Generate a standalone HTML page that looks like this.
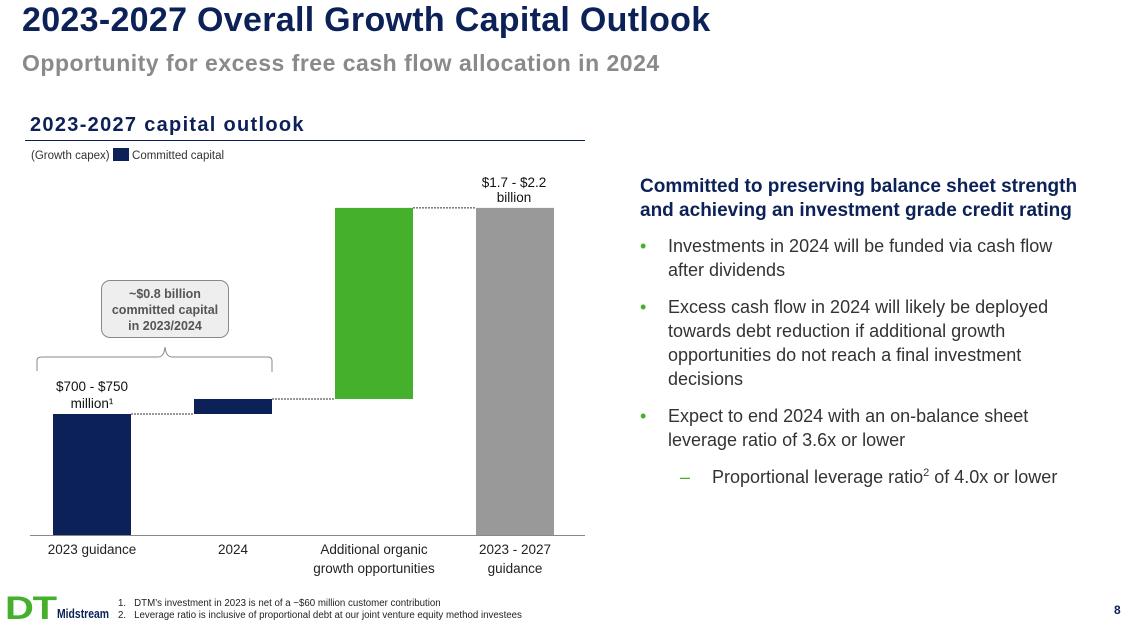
<!DOCTYPE html>
<html><head><meta charset="utf-8"><style>
body{margin:0;width:1131px;height:633px;background:#fff;font-family:"Liberation Sans",sans-serif;position:relative;overflow:hidden}
.a{position:absolute}
</style></head><body>
<div class="a" style="left:22px;top:1px;font-size:34px;font-weight:bold;color:#0c2157;letter-spacing:0.3px">2023-2027 Overall Growth Capital Outlook</div>
<div class="a" style="left:22px;top:50px;font-size:23px;font-weight:bold;color:#8a8a8a;letter-spacing:0.5px">Opportunity for excess free cash flow allocation in 2024</div>
<div class="a" style="left:30px;top:114px;font-size:20px;font-weight:bold;color:#0c2157;letter-spacing:1.3px">2023-2027 capital outlook</div>
<div class="a" style="left:25px;top:140px;width:560px;height:1px;background:#0c2157"></div>
<div class="a" style="left:31px;top:148px;font-size:11.5px;color:#333">(Growth capex) <span style="display:inline-block;width:16px;height:13px;background:#0c2157;vertical-align:-2px"></span> Committed capital</div>
<svg class="a" style="left:0;top:0" width="600" height="600" id="chart"></svg>
<div class="a" style="left:101px;top:280px;width:128px;height:58px;border:1px solid #888;border-radius:9px;background:#eee;font-size:12.5px;font-weight:bold;color:#555;text-align:center;line-height:16px;padding-top:5px;box-sizing:border-box">~$0.8 billion<br>committed capital<br>in 2023/2024</div>
<div class="a" style="left:640px;top:175px;font-size:19px;font-weight:bold;color:#0c2157;line-height:24px">Committed to preserving balance sheet strength<br>and achieving an investment grade credit rating</div>
<div class="a" style="left:640px;top:234px;font-size:18px;color:#333;line-height:24px;width:450px">
<div style="position:relative;padding-left:28px;margin-bottom:13px"><span style="position:absolute;left:0;color:#44b02c">•</span>Investments in 2024 will be funded via cash flow<br>after dividends</div>
<div style="position:relative;padding-left:28px;margin-bottom:13px"><span style="position:absolute;left:0;color:#44b02c">•</span>Excess cash flow in 2024 will likely be deployed<br>towards debt reduction if additional growth<br>opportunities do not reach a final investment<br>decisions</div>
<div style="position:relative;padding-left:28px;margin-bottom:13px"><span style="position:absolute;left:0;color:#44b02c">•</span>Expect to end 2024 with an on-balance sheet<br>leverage ratio of 3.6x or lower</div>
<div style="position:relative;padding-left:72px"><span style="position:absolute;left:40px;color:#44b02c">–</span>Proportional leverage ratio<sup style="font-size:11px;line-height:0">2</sup> of 4.0x or lower</div>
</div>
<div class="a" style="left:5px;top:597px;width:110px;height:26px">
<span style="position:absolute;left:0;top:-7px;font-size:32px;font-weight:900;color:#44b02c;letter-spacing:-1px;transform:scaleX(1.25);transform-origin:left">DT</span>
<span style="position:absolute;left:52px;top:9px;font-size:13px;font-weight:bold;color:#0c2157;transform:scaleX(0.8);transform-origin:left">Midstream</span></div>
<div class="a" style="left:118px;top:598px;font-size:9.7px;color:#222;line-height:12px">1.&nbsp;&nbsp;&nbsp;DTM’s investment in 2023 is net of a ~$60 million customer contribution<br>2.&nbsp;&nbsp;&nbsp;Leverage ratio is inclusive of proportional debt at our joint venture equity method investees</div>
<div class="a" style="left:1114px;top:603px;font-size:12px;font-weight:bold;color:#0c2157">8</div>
<script>
const categories=["2023 guidance","2024","Additional organic growth opportunities","2023 - 2027 guidance"];
const values=[725,90,1145,1960];
const kinds=["base","step","step","total"];
const colors=["#0c2157","#0c2157","#44b02c","#999999"];
const NS="http://www.w3.org/2000/svg",svg=document.getElementById('chart');
const base=535,k=121/725,x0=53,step=141,bw=78;
const y=v=>base-v*k;
function mk(t,a){const e=document.createElementNS(NS,t);for(const n in a)e.setAttribute(n,a[n]);svg.appendChild(e);return e;}
let cum=0;
values.forEach((v,i)=>{let lo,hi;
 if(kinds[i]==="total"){lo=0;hi=v;}else{lo=cum;hi=cum+v;cum=hi;}
 const x=x0+i*step;
 const r=mk('rect',{x:x,y:y(hi),width:bw,height:y(lo)-y(hi),fill:colors[i]});
 
 
 if(i>0){const l=mk('line',{x1:x0+(i-1)*step+bw,x2:x,y1:y(lo===0?hi:lo),y2:y(lo===0?hi:lo),stroke:'#333','stroke-dasharray':'2,1','stroke-width':1});
 
 }
 const lines=i===2?["Additional organic","growth opportunities"]:i===3?["2023 - 2027","guidance"]:[categories[i]];
 lines.forEach((s,j)=>{const t=mk('text',{x:x+bw/2,y:554+j*19,'text-anchor':'middle','font-size':13.5,fill:'#222'});t.textContent=s;
 
 });
});
const ax=mk('line',{x1:30,x2:585,y1:base+0.5,y2:base+0.5,stroke:'#888'});


[["$700 - $750",92,391],["million¹",92,408],["$1.7 - $2.2",514,187],["billion",514,202]].forEach(d=>{const t=mk('text',{x:d[1],y:d[2],'text-anchor':'middle','font-size':13.5,fill:'#111'});t.textContent=d[0];

});
const b=mk('path',{d:'M37 371 V360 Q37 357 42 357 H158 Q164 357 165 347 Q166 357 172 357 H268 Q272 357 272 361 V372',fill:'none',stroke:'#888','stroke-width':1});


</script>
</body></html>
